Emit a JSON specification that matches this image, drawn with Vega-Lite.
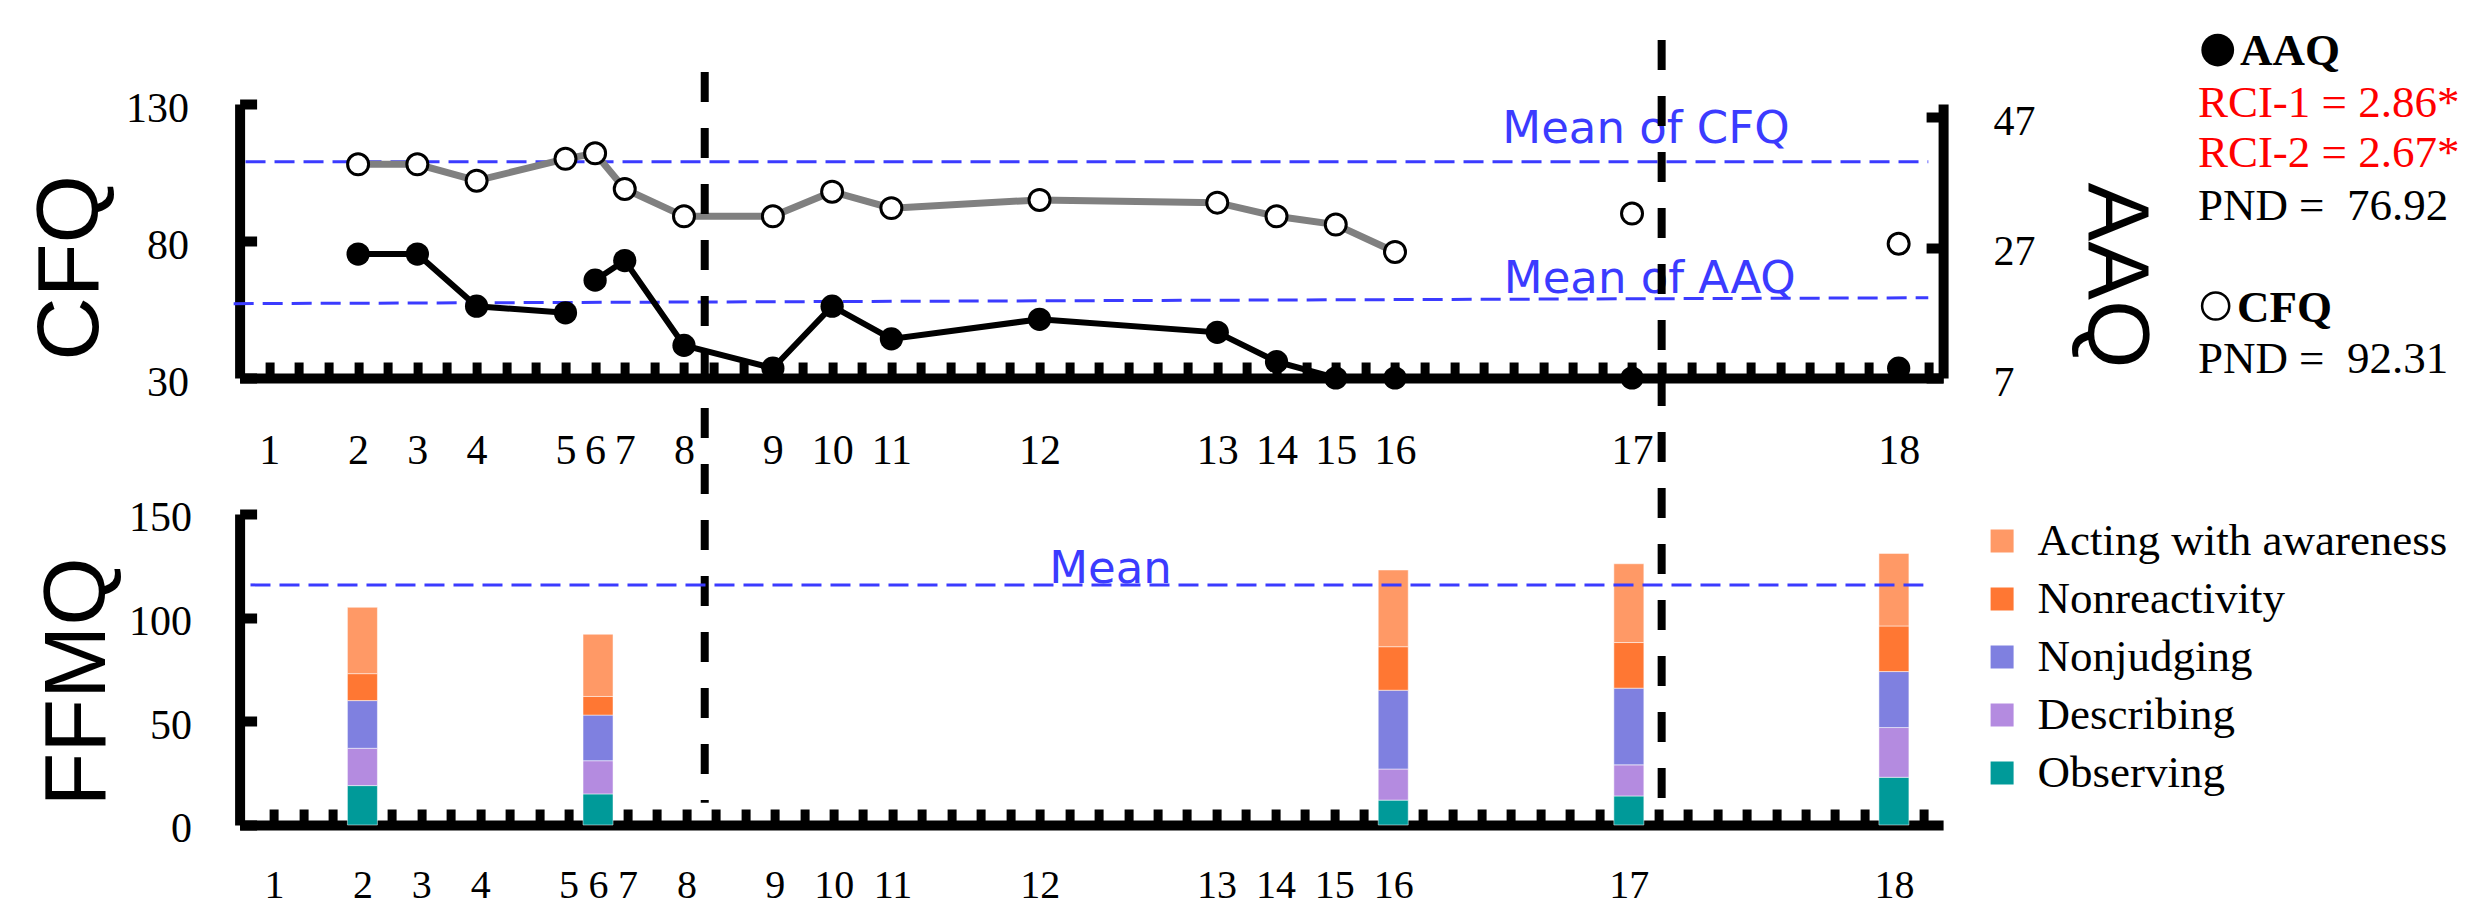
{
  "$schema": "https://vega.github.io/schema/vega-lite/v6.json",
  "background": "white",
  "padding": {"left": 26.6, "top": 29, "right": 0, "bottom": 0},
  "spacing": 136,
  "bounds": "flush",
  "resolve": {"scale": {"x": "independent", "y": "independent", "color": "independent"}},
  "config": {
    "view": {"stroke": null},
    "axis": {"grid": false, "zindex": 1, "domainColor": "black", "tickColor": "black", "labelColor": "black", "titleColor": "black"}
  },
  "datasets": {
    "sessions": [
      {"session": 2, "day": 4, "cfq": 108, "aaq": 26, "cfqRun": 1, "aaqRun": 1},
      {"session": 3, "day": 6, "cfq": 108, "aaq": 26, "cfqRun": 1, "aaqRun": 1},
      {"session": 4, "day": 8, "cfq": 102, "aaq": 18, "cfqRun": 1, "aaqRun": 1},
      {"session": 5, "day": 11, "cfq": 110, "aaq": 17, "cfqRun": 1, "aaqRun": 1},
      {"session": 6, "day": 12, "cfq": 112, "aaq": 22, "cfqRun": 1, "aaqRun": 2},
      {"session": 7, "day": 13, "cfq": 99, "aaq": 25, "cfqRun": 1, "aaqRun": 2},
      {"session": 8, "day": 15, "cfq": 89, "aaq": 12, "cfqRun": 1, "aaqRun": 2},
      {"session": 9, "day": 18, "cfq": 89, "aaq": 8.5, "cfqRun": 1, "aaqRun": 2},
      {"session": 10, "day": 20, "cfq": 98, "aaq": 18, "cfqRun": 1, "aaqRun": 2},
      {"session": 11, "day": 22, "cfq": 92, "aaq": 13, "cfqRun": 1, "aaqRun": 2},
      {"session": 12, "day": 27, "cfq": 95, "aaq": 16, "cfqRun": 1, "aaqRun": 2},
      {"session": 13, "day": 33, "cfq": 94, "aaq": 14, "cfqRun": 1, "aaqRun": 2},
      {"session": 14, "day": 35, "cfq": 89, "aaq": 9.5, "cfqRun": 1, "aaqRun": 2},
      {"session": 15, "day": 37, "cfq": 86, "aaq": 7, "cfqRun": 1, "aaqRun": 2},
      {"session": 16, "day": 39, "cfq": 76, "aaq": 7, "cfqRun": 1, "aaqRun": 2},
      {"session": 17, "day": 47, "cfq": 90, "aaq": 7, "cfqRun": null, "aaqRun": null},
      {"session": 18, "day": 56, "cfq": 79, "aaq": 8.5, "cfqRun": null, "aaqRun": null}
    ],
    "cfqMean": [{"day": 0.2, "day2": 57.0, "cfq": 108.9}],
    "cfqLabel": [{"day": 47.47, "cfq": 115.8, "label": "Mean of CFQ"}],
    "aaqMean": [{"day": -0.2, "day2": 57.0, "aaq": 18.4, "aaq2": 19.3}],
    "aaqLabel": [{"day": 47.6, "aaq": 20.0, "label": "Mean of AAQ"}],
    "phases": [
      {"day": 15.7, "aaq": 53.9, "aaq2": -58.1},
      {"day": 48.0, "aaq": 58.8, "aaq2": -57.4}
    ],
    "notes": [
      {"day": 66.77, "cfq": 149.7, "label": "AAQ", "kind": "symAAQ"},
      {"day": 67.52, "cfq": 144.2, "label": "AAQ", "kind": "head"},
      {"day": 66.1, "cfq": 125.3, "label": "RCI-1 = 2.86*", "kind": "rci"},
      {"day": 66.1, "cfq": 107.0, "label": "RCI-2 = 2.67*", "kind": "rci"},
      {"day": 66.1, "cfq": 87.7, "label": "PND = \u00a076.92", "kind": "pnd"},
      {"day": 66.70, "cfq": 56.3, "label": "CFQ", "kind": "symCFQ"},
      {"day": 67.42, "cfq": 50.4, "label": "CFQ", "kind": "head"},
      {"day": 66.1, "cfq": 31.8, "label": "PND = \u00a092.31", "kind": "pnd"}
    ],
    "ffmq": [
      {"session": 2, "day": 4, "facet": "Observing", "score": 19},
      {"session": 2, "day": 4, "facet": "Describing", "score": 18},
      {"session": 2, "day": 4, "facet": "Nonjudging", "score": 23},
      {"session": 2, "day": 4, "facet": "Nonreactivity", "score": 13},
      {"session": 2, "day": 4, "facet": "Acting with awareness", "score": 32},
      {"session": 6, "day": 12, "facet": "Observing", "score": 15},
      {"session": 6, "day": 12, "facet": "Describing", "score": 16},
      {"session": 6, "day": 12, "facet": "Nonjudging", "score": 22},
      {"session": 6, "day": 12, "facet": "Nonreactivity", "score": 9},
      {"session": 6, "day": 12, "facet": "Acting with awareness", "score": 30},
      {"session": 16, "day": 39, "facet": "Observing", "score": 12},
      {"session": 16, "day": 39, "facet": "Describing", "score": 15},
      {"session": 16, "day": 39, "facet": "Nonjudging", "score": 38},
      {"session": 16, "day": 39, "facet": "Nonreactivity", "score": 21},
      {"session": 16, "day": 39, "facet": "Acting with awareness", "score": 37},
      {"session": 17, "day": 47, "facet": "Observing", "score": 14},
      {"session": 17, "day": 47, "facet": "Describing", "score": 15},
      {"session": 17, "day": 47, "facet": "Nonjudging", "score": 37},
      {"session": 17, "day": 47, "facet": "Nonreactivity", "score": 22},
      {"session": 17, "day": 47, "facet": "Acting with awareness", "score": 38},
      {"session": 18, "day": 56, "facet": "Observing", "score": 23},
      {"session": 18, "day": 56, "facet": "Describing", "score": 24},
      {"session": 18, "day": 56, "facet": "Nonjudging", "score": 27},
      {"session": 18, "day": 56, "facet": "Nonreactivity", "score": 22},
      {"session": 18, "day": 56, "facet": "Acting with awareness", "score": 35}
    ],
    "ffmqMean": [{"day": 0.2, "day2": 57.0, "score": 115.8}],
    "ffmqLabel": [{"day": 29.4, "score": 116.9, "label": "Mean"}]
  },
  "vconcat": [
    {
      "width": 1703.5,
      "height": 274,
      "encoding": {
        "x": {
          "field": "day", "type": "quantitative",
          "scale": {"domain": [0, 57.5], "nice": false, "zero": false},
          "axis": {
            "values": [1,2,3,4,5,6,7,8,9,10,11,12,13,14,15,16,17,18,19,20,21,22,23,24,25,26,27,28,29,30,31,32,33,34,35,36,37,38,39,40,41,42,43,44,45,46,47,48,49,50,51,52,53,54,55,56,57],
            "labelExpr": "indexof([1,4,6,8,11,12,13,15,18,20,22,27,33,35,37,39,47,56], datum.value) >= 0 ? toString(indexof([1,4,6,8,11,12,13,15,18,20,22,27,33,35,37,39,47,56], datum.value) + 1) : ''",
            "domainWidth": 10, "tickSize": -16, "tickWidth": 9,
            "labelPadding": 69, "labelFont": "Liberation Serif", "labelFontSize": 42,
            "labelOverlap": false, "labelFlush": false, "labelBound": false, "labelBaseline": "top",
            "title": null
          }
        }
      },
      "layer": [
        {
          "encoding": {
            "y": {
              "field": "cfq", "type": "quantitative",
              "scale": {"domain": [30, 130], "nice": false, "zero": false},
              "axis": {
                "orient": "left", "values": [30, 80, 130],
                "domainWidth": 10, "tickSize": -17, "tickWidth": 10,
                "labelPadding": 68, "labelFont": "Liberation Serif", "labelFontSize": 42,
                "labelBaseline": "alphabetic", "labelOffset": 17, "labelOverlap": false, "labelFlush": false,
                "title": "CFQ", "titleFont": "Liberation Sans", "titleFontSize": 88, "titleFontWeight": "normal",
                "titleAngle": -90, "titleX": -142.5, "titleY": 163.5, "titleAlign": "center", "titleBaseline": "alphabetic"
              }
            }
          },
          "layer": [
            {
              "data": {"name": "cfqMean"},
              "mark": {"type": "rule", "color": "#3b3bff", "strokeWidth": 3, "strokeDash": [20, 9]},
              "encoding": {"x2": {"field": "day2"}}
            },
            {
              "data": {"name": "sessions"},
              "transform": [{"filter": "datum.cfqRun != null"}],
              "mark": {"type": "line", "color": "#808080", "strokeWidth": 7},
              "encoding": {"detail": {"field": "cfqRun", "type": "nominal"}}
            },
            {
              "data": {"name": "sessions"},
              "mark": {"type": "point", "shape": "circle", "filled": true, "fill": "white", "stroke": "black", "strokeWidth": 3, "size": 440, "opacity": 1}
            },
            {
              "data": {"name": "cfqLabel"},
              "mark": {"type": "text", "font": "DejaVu Sans", "fontSize": 45, "color": "#3b3bff", "align": "center", "baseline": "alphabetic"},
              "encoding": {"text": {"field": "label"}}
            },
            {
              "data": {"name": "notes"},
              "transform": [{"filter": "datum.kind == 'symAAQ'"}],
              "mark": {"type": "point", "shape": "circle", "filled": true, "color": "black", "size": 1075, "opacity": 1}
            },
            {
              "data": {"name": "notes"},
              "transform": [{"filter": "datum.kind == 'symCFQ'"}],
              "mark": {"type": "point", "shape": "circle", "filled": true, "fill": "white", "stroke": "black", "strokeWidth": 2.5, "size": 735, "opacity": 1}
            },
            {
              "data": {"name": "notes"},
              "transform": [{"filter": "datum.kind == 'head'"}],
              "mark": {"type": "text", "font": "Liberation Serif", "fontSize": 45, "fontWeight": "bold", "color": "black", "align": "left", "baseline": "alphabetic"},
              "encoding": {"text": {"field": "label"}}
            },
            {
              "data": {"name": "notes"},
              "transform": [{"filter": "datum.kind == 'rci'"}],
              "mark": {"type": "text", "font": "Liberation Serif", "fontSize": 45, "color": "#ff0000", "align": "left", "baseline": "alphabetic"},
              "encoding": {"text": {"field": "label"}}
            },
            {
              "data": {"name": "notes"},
              "transform": [{"filter": "datum.kind == 'pnd'"}],
              "mark": {"type": "text", "font": "Liberation Serif", "fontSize": 45, "color": "black", "align": "left", "baseline": "alphabetic"},
              "encoding": {"text": {"field": "label"}}
            }
          ]
        },
        {
          "encoding": {
            "y": {
              "field": "aaq", "type": "quantitative",
              "scale": {"domain": [7, 49], "nice": false, "zero": false},
              "axis": {
                "orient": "right", "values": [7, 27, 47],
                "domainWidth": 10, "tickSize": -17, "tickWidth": 10,
                "labelPadding": 67, "labelFont": "Liberation Serif", "labelFontSize": 42,
                "labelBaseline": "alphabetic", "labelOffset": 17, "labelOverlap": false, "labelFlush": false,
                "title": "AAQ", "titleFont": "Liberation Sans", "titleFontSize": 88, "titleFontWeight": "normal",
                "titleAngle": 90, "titleX": 144, "titleY": 171, "titleAlign": "center", "titleBaseline": "alphabetic"
              }
            }
          },
          "layer": [
            {
              "data": {"name": "aaqMean"},
              "mark": {"type": "rule", "color": "#3b3bff", "strokeWidth": 3, "strokeDash": [20, 9]},
              "encoding": {"x2": {"field": "day2"}, "y2": {"field": "aaq2"}}
            },
            {
              "data": {"name": "sessions"},
              "transform": [{"filter": "datum.aaqRun != null"}],
              "mark": {"type": "line", "color": "black", "strokeWidth": 6},
              "encoding": {"detail": {"field": "aaqRun", "type": "nominal"}}
            },
            {
              "data": {"name": "sessions"},
              "mark": {"type": "point", "shape": "circle", "filled": true, "color": "black", "size": 540, "opacity": 1}
            },
            {
              "data": {"name": "aaqLabel"},
              "mark": {"type": "text", "font": "DejaVu Sans", "fontSize": 45, "color": "#3b3bff", "align": "center", "baseline": "alphabetic"},
              "encoding": {"text": {"field": "label"}}
            },
            {
              "data": {"name": "phases"},
              "mark": {"type": "rule", "color": "black", "strokeWidth": 8, "strokeDash": [30, 26]},
              "encoding": {"y2": {"field": "aaq2"}}
            }
          ]
        }
      ],
      "resolve": {"scale": {"y": "independent"}, "axis": {"y": "independent"}}
    },
    {
      "width": 1703.5,
      "height": 311,
      "encoding": {
        "x": {
          "field": "day", "type": "quantitative",
          "scale": {"domain": [0, 57.5], "nice": false, "zero": false},
          "axis": {
            "values": [1,2,3,4,5,6,7,8,9,10,11,12,13,14,15,16,17,18,19,20,21,22,23,24,25,26,27,28,29,30,31,32,33,34,35,36,37,38,39,40,41,42,43,44,45,46,47,48,49,50,51,52,53,54,55,56,57],
            "labelExpr": "indexof([1,4,6,8,11,12,13,15,18,20,22,27,33,35,37,39,47,56], datum.value) >= 0 ? toString(indexof([1,4,6,8,11,12,13,15,18,20,22,27,33,35,37,39,47,56], datum.value) + 1) : ''",
            "domainWidth": 10, "tickSize": -16, "tickWidth": 9,
            "labelPadding": 57, "labelFont": "Liberation Serif", "labelFontSize": 40,
            "labelOverlap": false, "labelFlush": false, "labelBound": false, "labelBaseline": "top",
            "title": null
          }
        },
        "y": {
          "field": "score", "type": "quantitative",
          "scale": {"domain": [0, 150], "nice": false, "zero": true},
          "axis": {
            "orient": "left", "values": [0, 50, 100, 150],
            "domainWidth": 10, "tickSize": -17, "tickWidth": 10,
            "labelPadding": 65, "labelFont": "Liberation Serif", "labelFontSize": 42,
            "labelBaseline": "alphabetic", "labelOffset": 17, "labelOverlap": false, "labelFlush": false,
            "title": "FFMQ", "titleFont": "Liberation Sans", "titleFontSize": 88, "titleFontWeight": "normal",
            "titleAngle": -90, "titleX": -135, "titleY": 167.5, "titleAlign": "center", "titleBaseline": "alphabetic"
          }
        }
      },
      "layer": [
        {
          "data": {"name": "ffmq"},
          "transform": [{"calculate": "indexof(['Observing','Describing','Nonjudging','Nonreactivity','Acting with awareness'], datum.facet)", "as": "stackOrder"}],
          "mark": {"type": "bar", "size": 30, "stroke": "white", "strokeWidth": 1, "strokeOpacity": 0.5},
          "encoding": {
            "color": {
              "field": "facet", "type": "nominal",
              "scale": {
                "domain": ["Acting with awareness", "Nonreactivity", "Nonjudging", "Describing", "Observing"],
                "range": ["#ff9966", "#ff7733", "#7f80e0", "#b48be0", "#009a99"]
              },
              "legend": {
                "orient": "none", "legendX": 1740, "legendY": 4.5, "title": null,
                "symbolType": "square", "symbolSize": 529, "symbolStrokeWidth": 0, "symbolOpacity": 1,
                "labelFont": "Liberation Serif", "labelFontSize": 45, "labelColor": "black", "labelLimit": 0,
                "labelOffset": 13, "rowPadding": 12, "padding": 0
              }
            },
            "order": {"field": "stackOrder", "type": "quantitative"}
          }
        },
        {
          "data": {"name": "ffmqMean"},
          "mark": {"type": "rule", "color": "#3b3bff", "strokeWidth": 3, "strokeDash": [20, 9]},
          "encoding": {"x2": {"field": "day2"}}
        },
        {
          "data": {"name": "ffmqLabel"},
          "mark": {"type": "text", "font": "DejaVu Sans", "fontSize": 45, "color": "#3b3bff", "align": "center", "baseline": "alphabetic"},
          "encoding": {"text": {"field": "label"}}
        }
      ]
    }
  ]
}
